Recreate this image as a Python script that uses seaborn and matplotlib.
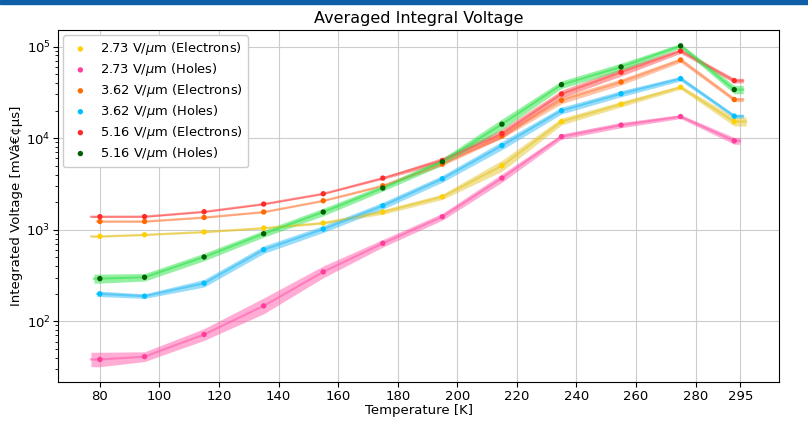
import numpy as np
import pandas as pd
import seaborn as sns
import matplotlib.pyplot as plt
from matplotlib.patches import Rectangle

# nominal temperature set points [K]
temps = [80, 95, 115, 135, 155, 175, 195, 215, 235, 255, 275, 293]

# averaged integral voltage [mV*us]
v273_e = [845, 880, 944, 1042, 1182, 1560, 2290, 4990, 15200, 23500, 36000, 15200]
v273_h = [38.2, 41, 71.6, 147, 346, 710, 1387, 3660, 10400, 13900, 17200, 9350]
v362_e = [1230, 1230, 1360, 1560, 2070, 3020, 5200, 10600, 25900, 41100, 71400, 26400]
v362_h = [199, 188, 260, 605, 1016, 1827, 3600, 8300, 20000, 30600, 44700, 17400]
v516_e = [1387, 1390, 1570, 1905, 2470, 3660, 5700, 11200, 30400, 52500, 89600, 42500]
v516_h = [292, 302, 503, 903, 1560, 2850, 5520, 14200, 38400, 60000, 102000, 33900]

# relative spread [%]
e273_e = [2, 2, 2, 2, 3, 6, 7, 15, 9, 7, 5, 12]
e273_h = [20, 13, 16, 22, 16, 10, 9, 11, 7, 7, 5, 9]
e362_e = [2, 2, 2, 2, 2, 3, 4, 6, 9, 8, 6, 5.5]
e362_h = [7, 6, 10, 10, 9, 9, 9, 11, 9, 8, 6, 5]
e516_e = [2, 2, 2, 2, 2, 3, 8, 12, 10, 10, 6, 6]
e516_h = [12, 10, 10, 9, 10, 8, 9, 14, 10, 10, 6, 11]

# measured temperature range covered by each run [K]
t273_e = (77, 297)
t273_h = (77, 295)
t362_e = (79, 296)
t362_h = (79, 296)
t516_e = (77, 296)
t516_h = (78, 296)

labels = ['2.73 V/$\\mu$m (Electrons)', '2.73 V/$\\mu$m (Holes)',
          '3.62 V/$\\mu$m (Electrons)', '3.62 V/$\\mu$m (Holes)',
          '5.16 V/$\\mu$m (Electrons)', '5.16 V/$\\mu$m (Holes)']

series = [
    (v273_e, e273_e, t273_e, '#FFD000', '#E6C62E'),
    (v273_h, e273_h, t273_h, '#FF3D9A', '#FF5CAB'),
    (v362_e, e362_e, t362_e, '#FF6A00', '#FF8A50'),
    (v362_h, e362_h, t362_h, '#00BFFF', '#33BDF5'),
    (v516_e, e516_e, t516_e, '#FF2A2A', '#FF4F4F'),
    (v516_h, e516_h, t516_h, '#005F00', '#2FE34A'),
]

fig = plt.figure(figsize=(8.08, 4.22), dpi=100)
ax = fig.add_axes([0.072, 0.094, 0.892, 0.835])

handles = []
for (vals, errs, trange, c_dot, c_band), lab in zip(series, labels):
    df = pd.DataFrame({'T': temps, 'V': vals, 'err': errs})
    # run extends a bit beyond first/last set point
    ext = pd.concat([df.iloc[[0]].assign(T=trange[0]), df,
                     df.iloc[[-1]].assign(T=trange[1])], ignore_index=True)
    lo = ext['V'] / (1 + ext['err'] / 100)
    hi = ext['V'] * (1 + ext['err'] / 100)
    ax.fill_between(ext['T'], lo, hi, color=c_band, alpha=0.5, linewidth=0)
    sns.lineplot(data=ext, x='T', y='V', ax=ax, color=c_band, alpha=0.6,
                 linewidth=1.5, sort=False)
    h = ax.scatter(df['T'], df['V'], s=15, color=c_dot, zorder=3, label=lab,
                   edgecolors='none')
    handles.append(h)

ax.set_yscale('log')
ax.set_ylim(21.5, 1.52e5)
ax.set_xticks([80, 100, 120, 140, 160, 180, 200, 220, 240, 260, 280, 295])
ax.grid(True, which='major', color='#cccccc', linewidth=0.8)
ax.set_axisbelow(True)
ax.tick_params(axis='both', labelsize=9.5, pad=2)
ax.set_xlabel('Temperature [K]', fontsize=9.5, labelpad=1)
ax.set_ylabel('Integrated Voltage [mVâ€¢µs]', fontsize=9.5, labelpad=2)
ax.set_title('Averaged Integral Voltage', fontsize=11.5, pad=5)

ax.legend(handles=handles, loc='upper left', fontsize=9.4, frameon=True,
          framealpha=1, edgecolor='#cccccc', handlelength=1.8,
          handletextpad=0.6, borderaxespad=0.4, labelspacing=0.3)

# header stripe
fig.patches.append(Rectangle((0, 0.99), 1, 0.01, transform=fig.transFigure,
                             color='#0F5EA8', zorder=10))

fig.savefig('out.png', dpi=100)
